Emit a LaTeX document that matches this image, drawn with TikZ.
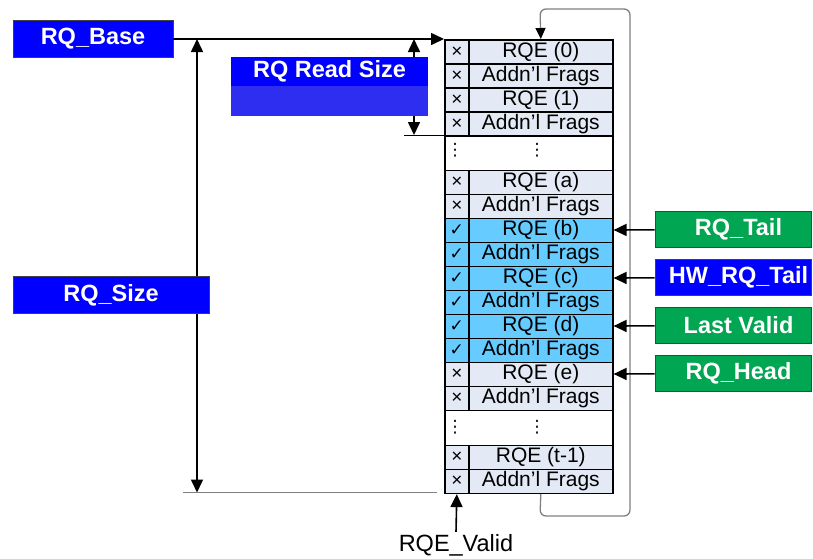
\documentclass[tikz,border=0pt]{standalone}
\usepackage{fontspec}
\setmainfont{Liberation Sans}
\newfontfamily\dejavu{DejaVu Sans}
\usetikzlibrary{arrows.meta}
\definecolor{qblue}{RGB}{0,0,255}
\definecolor{qbluelow}{RGB}{46,46,240}
\definecolor{qgreen}{RGB}{0,166,81}
\definecolor{cellgray}{RGB}{228,234,245}
\definecolor{cellvalid}{RGB}{102,204,255}
\definecolor{edgegray}{RGB}{64,64,64}
\definecolor{loopgray}{RGB}{128,128,128}
\newcommand\xm{{\fontsize{19}{19}\selectfont ×}}
\newcommand\cm{{\dejavu\fontsize{17}{17}\selectfont ✓}}
\newcommand\qrow[5]{%
  \node[chkcell, fill=#3] (#1c) at (444,#2) {#4};
  \node[entcell, fill=#3] (#1) at (468,#2) {#5};
}
\begin{document}
\begin{tikzpicture}[x=1pt,y=-1pt,
  arr/.style={line width=1.6pt, -{Triangle[length=13pt,width=12pt]}},
  darr/.style={line width=1.6pt, {Triangle[length=13pt,width=12pt]}-{Triangle[length=13pt,width=12pt]}},
  lbl/.style={draw=edgegray, line width=0.8pt, text=white, font=\fontsize{23.5}{26}\selectfont\bfseries, inner sep=0pt},
  bluebox/.style={lbl, fill=qblue},
  greenbox/.style={lbl, fill=qgreen, minimum width=156pt, minimum height=35.5pt},
  chkcell/.style={draw=black, line width=1.6pt, minimum width=24pt, minimum height=24pt, inner sep=0pt, anchor=north west},
  entcell/.style={draw=black, line width=1.6pt, minimum width=144pt, minimum height=24pt, inner sep=0pt, anchor=north west, font=\fontsize{21}{22}\selectfont},
  gapcell/.style={draw=black, line width=1.6pt, fill=white, minimum width=168pt, inner sep=0pt, anchor=north west},
  dots/.style={font=\dejavu\fontsize{17}{17}\selectfont, inner sep=0pt},
  thinline/.style={line width=1pt},
]
\fill[white] (0,0) rectangle (813,558);
\useasboundingbox (0,0) rectangle (813,558);

\qrow{r0}{39}{cellgray}{\xm}{RQE (0)}
\qrow{r0f}{63}{cellgray}{\xm}{Addn’l Frags}
\qrow{r1}{87}{cellgray}{\xm}{RQE (1)}
\qrow{r1f}{111}{cellgray}{\xm}{Addn’l Frags}
\node[gapcell, minimum height=34.5pt] (gap1) at (444,135) {};
\node[dots] (g1a) at (455,150) {⋮};
\node[dots] (g1b) at (537,150) {⋮};
\qrow{ra}{169.5}{cellgray}{\xm}{RQE (a)}
\qrow{raf}{193.5}{cellgray}{\xm}{Addn’l Frags}
\qrow{rb}{217.5}{cellvalid}{\cm}{RQE (b)}
\qrow{rbf}{241.5}{cellvalid}{\cm}{Addn’l Frags}
\qrow{rc}{265.5}{cellvalid}{\cm}{RQE (c)}
\qrow{rcf}{289.5}{cellvalid}{\cm}{Addn’l Frags}
\qrow{rd}{313.5}{cellvalid}{\cm}{RQE (d)}
\qrow{rdf}{337.5}{cellvalid}{\cm}{Addn’l Frags}
\qrow{re}{361.5}{cellgray}{\xm}{RQE (e)}
\qrow{ref}{385.5}{cellgray}{\xm}{Addn’l Frags}
\node[gapcell, minimum height=35pt] (gap2) at (444,409.5) {};
\node[dots] (g2a) at (455,427) {⋮};
\node[dots] (g2b) at (537,427) {⋮};
\qrow{rt}{444.5}{cellgray}{\xm}{RQE (t-1)}
\qrow{rtf}{468.5}{cellgray}{\xm}{Addn’l Frags}

\draw[loopgray, line width=1.3pt, rounded corners=6pt, -{Triangle[length=11pt,width=10pt,color=black]}]
  (rtf.south) -- (540,516) -- (630,516) -- (630,9) -- (540,9) -- (r0.north);

% RQ_Base
\node[bluebox, minimum width=160pt, minimum height=36.5pt] (base) at (93,39) {RQ\_Base};
\draw[arr] (base.east) -- (r0c.north west);

% RQ_Size
\coordinate (stop) at (197,39);
\coordinate (sbot) at (197,492.5);
\coordinate (bl) at (183,492.5);
\coordinate (br) at (437,492.5);
\draw[darr] (stop) -- (sbot);
\draw[loopgray, thinline] (bl) -- (br);
\node[bluebox, minimum width=196pt, minimum height=36.5pt] (size) at (111,295) {RQ\_Size};

% RQ Read Size
\coordinate (rtop) at (414,39);
\coordinate (rbot) at (414,135);
\coordinate (rl) at (404,135);
\draw[darr] (rtop) -- (rbot);
\draw[thinline] (rl) -- (gap1.north west);
\node[fill=qblue, text=white, font=\fontsize{23.5}{26}\selectfont\bfseries, inner sep=0pt, minimum width=197pt, minimum height=29pt] (rs) at (329.5,71.5) {RQ Read Size};
\node[fill=qbluelow, inner sep=0pt, minimum width=197pt, minimum height=30pt, anchor=north] (rslow) at (rs.south) {};

% right pointers
\node[greenbox] (tail) at (733,229.5) {\hspace*{11pt}RQ\_Tail};
\node[bluebox, minimum width=156pt, minimum height=35.5pt] (hwtail) at (733,277.5) {\hspace*{11pt}HW\_RQ\_Tail};
\node[greenbox] (lastvalid) at (733,325.5) {\hspace*{11pt}Last Valid};
\node[greenbox] (head) at (733,373.5) {\hspace*{11pt}RQ\_Head};
\draw[arr] (tail) -- (rb);
\draw[arr] (hwtail) -- (rc);
\draw[arr] (lastvalid) -- (rd);
\draw[arr] (head) -- (re);

% RQE_Valid
\node[font=\fontsize{23.5}{26}\selectfont, inner sep=2pt] (valid) at (456,545) {RQE\_Valid};
\draw[arr] (valid.north) -- (rtfc.south);
\end{tikzpicture}
\end{document}
